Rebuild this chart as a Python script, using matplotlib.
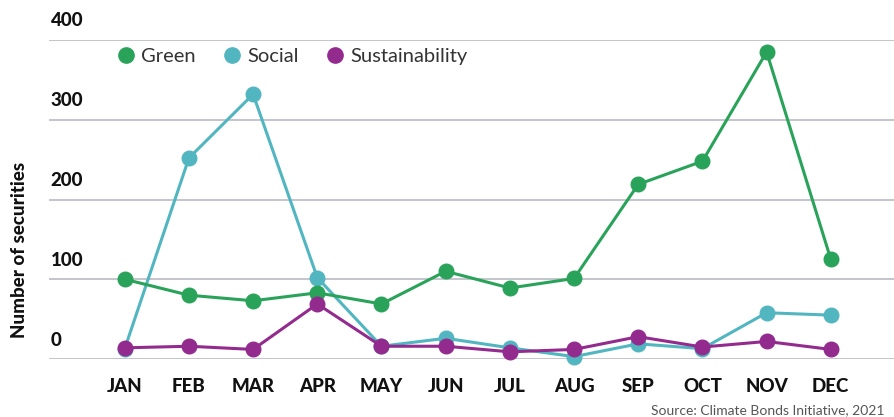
import matplotlib
matplotlib.use("Agg")
import matplotlib.pyplot as plt
from matplotlib.lines import Line2D
import matplotlib.transforms as mtransforms

months = ["JAN", "FEB", "MAR", "APR", "MAY", "JUN", "JUL", "AUG", "SEP", "OCT", "NOV", "DEC"]
green = [100, 80, 73, 83, 69, 110, 89, 101, 219, 248, 385, 125]
social = [13, 252, 332, 102, 16, 26, 14, 3, 19, 13, 58, 55]
sustainability = [14, 16, 12, 69, 16, 16, 9, 12, 28, 15, 22, 12]
yticks = [0, 100, 200, 300, 400]

c_green = "#2aa35a"
c_social = "#52b6c1"
c_sust = "#932b8f"

plt.rcParams["font.family"] = ["Lato", "DejaVu Sans"]

fig = plt.figure(figsize=(8.95, 4.17), dpi=100)
ax = fig.add_axes([49 / 895, 58 / 417, 1 - 49 / 895, (359 - 40) / 417])

x = list(range(len(months)))
ax.set_xlim(-1.18, 12.0)
ax.set_ylim(0, 400)

for v in yticks:
    ax.axhline(v, color="#c4c4cc", lw=1.4, zorder=1)

style = dict(lw=2.2, marker="o", ms=10.5, clip_on=False)
ax.plot(x, social, color=c_social, zorder=3, **style)
ax.plot(x, green, color=c_green, zorder=4, **style)
ax.plot(x, sustainability, color=c_sust, zorder=5, **style)

for s in ax.spines.values():
    s.set_visible(False)
ax.set_yticks([])
ax.set_xticks(x)
ax.set_xticklabels(months, fontsize=13.5, fontweight="black", color="#111111")
ax.tick_params(axis="x", length=0, pad=14)

# y labels sit above their gridlines
off = mtransforms.offset_copy(ax.get_yaxis_transform(), fig=fig, x=0, y=19, units="dots")
for v in yticks:
    ax.text(0.002, v, str(v), transform=off, ha="left", va="center",
            fontsize=13.5, fontweight="black", color="#111111")

fig.text(20 / 895, 1 - 250 / 417, "Number of securities", rotation=90,
         ha="center", va="center", fontsize=13.5, fontweight="black", color="#111111")

handles = [Line2D([], [], ls="none", marker="o", ms=11, color=c) for c in (c_green, c_social, c_sust)]
fig.legend(handles, ["Green", "Social", "Sustainability"], loc="center left",
           bbox_to_anchor=(96 / 895, 1 - 56 / 417), ncol=3, frameon=False,
           prop={"size": 14.5}, handletextpad=0.15,
           columnspacing=1.2, handlelength=1.2, labelcolor="#333333")

fig.text(885 / 895, 1 - 410 / 417, "Source: Climate Bonds Initiative, 2021",
         ha="right", va="center", fontsize=10, color="#555555")

fig.savefig("out.png", dpi=100)
